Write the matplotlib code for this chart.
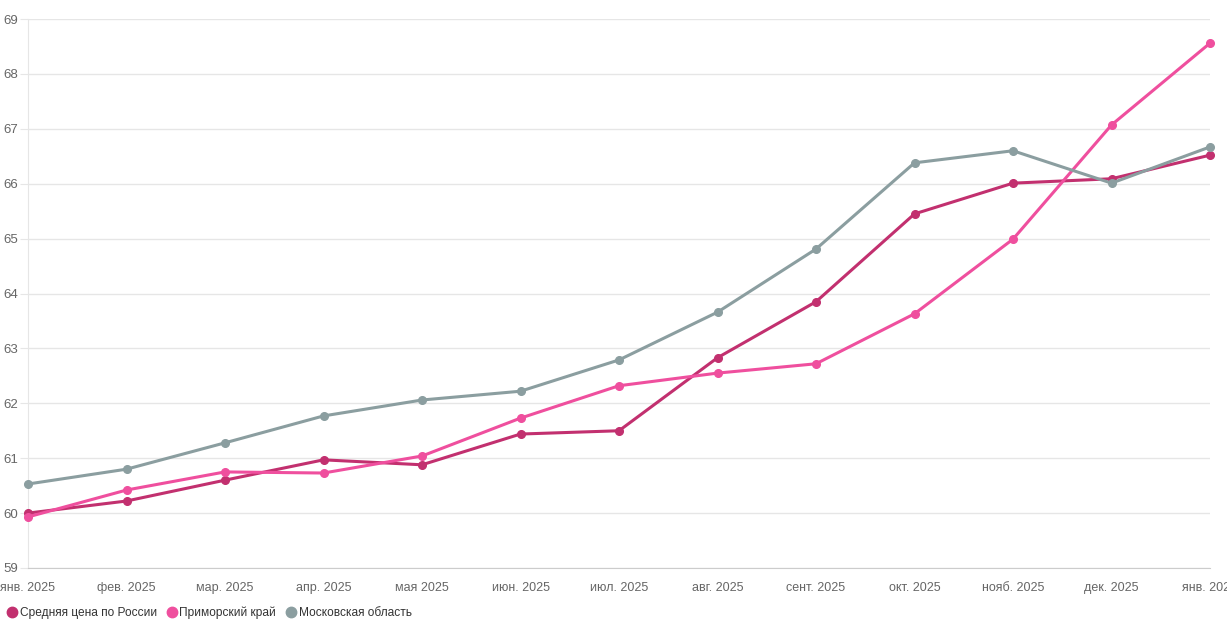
import numpy as np
import matplotlib.pyplot as plt

plt.rcParams['font.family'] = ['Liberation Sans', 'DejaVu Sans']

months = ['янв. 2025', 'фев. 2025', 'мар. 2025', 'апр. 2025', 'мая 2025', 'июн. 2025',
          'июл. 2025', 'авг. 2025', 'сент. 2025', 'окт. 2025', 'нояб. 2025', 'дек. 2025',
          'янв. 2026']
russia = [60.00, 60.22, 60.60, 60.97, 60.88, 61.44, 61.50, 62.83, 63.85, 65.45, 66.01, 66.09, 66.52]
primorye = [59.93, 60.42, 60.75, 60.73, 61.04, 61.73, 62.32, 62.55, 62.72, 63.63, 64.99, 67.07, 68.56]
moscow_obl = [60.53, 60.80, 61.28, 61.77, 62.06, 62.22, 62.79, 63.66, 64.81, 66.38, 66.60, 66.01, 66.67]

names = ['Средняя цена по России', 'Приморский край', 'Московская область']
colors = ['#c2306f', '#ef4f9e', '#8b9ea0']

fig = plt.figure(figsize=(12.27, 6.3), dpi=100)
ax = fig.add_axes([28 / 1227, 1 - 568 / 630, (1210 - 28) / 1227, (568 - 19) / 630])

x = np.arange(len(months))
for vals, name, col in zip([russia, primorye, moscow_obl], names, colors):
    ax.plot(x, vals, color=col, lw=2.2, marker='o', ms=5.5, label=name,
            clip_on=False, zorder=3)

ax.set_xlim(0, len(months) - 1)
ax.set_ylim(59, 69)
ax.set_yticks(range(59, 70))
ax.set_xticks(x)
ax.set_xticklabels(months)
ax.grid(axis='y', color='#e6e6e6', lw=1)
ax.set_axisbelow(True)
for s in ['top', 'right']:
    ax.spines[s].set_visible(False)
ax.spines['left'].set_color('#e6e6e6')
ax.spines['bottom'].set_color('#cccccc')
ax.tick_params(axis='y', length=6, color='#e6e6e6', labelsize=9.5, labelcolor='#666666', pad=1)
ax.tick_params(axis='x', length=0, labelsize=9, labelcolor='#666666', pad=10)

fig.legend(loc='lower left', bbox_to_anchor=(-0.002, 0.0), ncol=3, frameon=False,
           fontsize=8.6, handlelength=0.6, handletextpad=0.35, columnspacing=0.95,
           labelcolor='#333333')
leg = fig.legends[0]
for h in leg.legend_handles:
    h.set_linestyle('none')
    h.set_markersize(7.5)

fig.savefig('out.png', dpi=100)
